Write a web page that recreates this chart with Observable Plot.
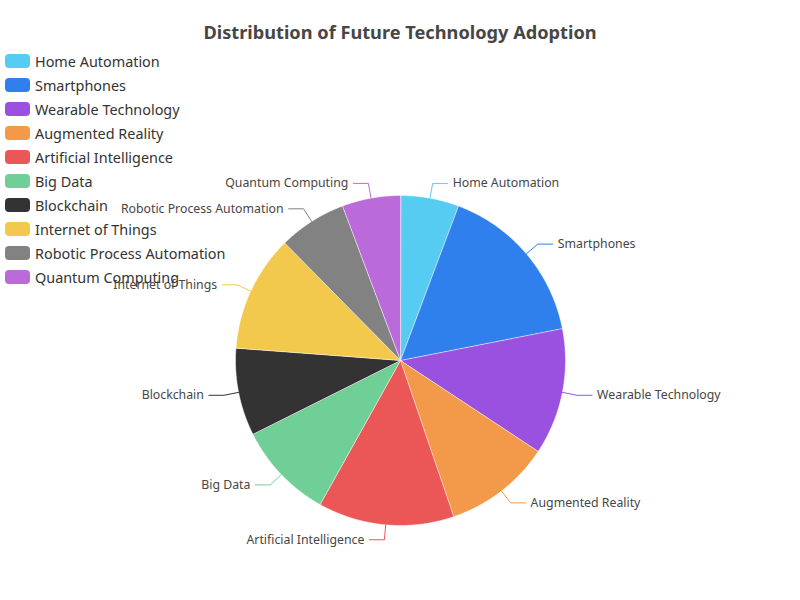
<!DOCTYPE html>
<html>
<head>
<meta charset="utf-8">
<script src="https://cdn.jsdelivr.net/npm/d3@7"></script>
<script src="https://cdn.jsdelivr.net/npm/@observablehq/plot@0.6"></script>
<style>
  html, body { margin: 0; padding: 0; background: #fff; }
  #wrap { position: relative; width: 800px; height: 600px; font-family: "Noto Sans", sans-serif; }
  #chart { position: absolute; left: 0; top: 0; }
  #title { position: absolute; left: 0; top: 20px; width: 800px; text-align: center; font-size: 18.2px; font-weight: bold; color: #464646; line-height: 24px; }
  #legend { position: absolute; left: 5px; top: 49px; }
  .item { display: flex; align-items: center; height: 24px; font-size: 14.4px; color: #333; white-space: nowrap; }
  .sw { width: 25px; height: 14px; border-radius: 4px; margin-right: 5px; }
</style>
</head>
<body>
<div id="wrap">
  <div id="chart"></div>
  <div id="title">Distribution of Future Technology Adoption</div>
  <div id="legend"></div>
</div>
<script>
const names = ["Home Automation", "Smartphones", "Wearable Technology", "Augmented Reality", "Artificial Intelligence", "Big Data", "Blockchain", "Internet of Things", "Robotic Process Automation", "Quantum Computing"];
const values = [6, 17, 13, 11, 14, 10, 9, 12, 7, 6];
const colors = ["#56CCF2", "#2F80ED", "#9B51E0", "#F2994A", "#EB5757", "#6FCF97", "#333333", "#F2C94C", "#828282", "#BB6BD9"];

const W = 800, H = 600, cx = 400, cy = 360, R = 165;
const len1 = 15 / R, len2 = 15 / R;

const data = names.map((name, i) => ({name, value: values[i]}));
const arcs = d3.pie().sort(null).value(d => d.value)(data);

const slicePts = [];
const lineTicks = [];
const labels = [];
for (const a of arcs) {
  const name = a.data.name;
  const n = Math.max(2, Math.ceil((a.endAngle - a.startAngle) * 180 / Math.PI * 2));
  slicePts.push({name, x: 0, y: 0});
  for (let i = 0; i <= n; i++) {
    const t = a.startAngle + (a.endAngle - a.startAngle) * i / n;
    slicePts.push({name, x: Math.sin(t), y: Math.cos(t)});
  }
  const mid = (a.startAngle + a.endAngle) / 2;
  const s = Math.sin(mid) >= 0 ? 1 : -1;
  const p0 = {x: Math.sin(mid), y: Math.cos(mid)};
  const p1 = {x: Math.sin(mid) * (1 + len1), y: Math.cos(mid) * (1 + len1)};
  const p2 = {x: p1.x + s * len2, y: p1.y};
  lineTicks.push({name, ...p0}, {name, ...p1}, {name, ...p2});
  labels.push({name, side: s, ...p2});
}

const chart = Plot.plot({
  width: W,
  height: H,
  margin: 0,
  x: {domain: [-cx / R, (W - cx) / R], axis: null},
  y: {domain: [-(H - cy) / R, cy / R], axis: null},
  color: {domain: names, range: colors},
  style: {fontFamily: "'Noto Sans', sans-serif", background: "transparent"},
  marks: [
    Plot.line(slicePts, {x: "x", y: "y", z: "name", fill: "name", stroke: "#fff", strokeWidth: 0.5, curve: "linear-closed"}),
    Plot.line(lineTicks, {x: "x", y: "y", z: "name", stroke: "name", strokeWidth: 1, curve: "linear"}),
    Plot.text(labels.filter(d => d.side > 0), {x: "x", y: "y", text: "name", textAnchor: "start", dx: 5, fontSize: 12.3, fill: "#464646"}),
    Plot.text(labels.filter(d => d.side < 0), {x: "x", y: "y", text: "name", textAnchor: "end", dx: -5, fontSize: 12.3, fill: "#464646"})
  ]
});
document.getElementById("chart").appendChild(chart);

const legend = document.getElementById("legend");
names.forEach((n, i) => {
  const item = document.createElement("div");
  item.className = "item";
  const sw = document.createElement("span");
  sw.className = "sw";
  sw.style.background = colors[i];
  const tx = document.createElement("span");
  tx.textContent = n;
  item.appendChild(sw);
  item.appendChild(tx);
  legend.appendChild(item);
});
</script>
</body>
</html>
